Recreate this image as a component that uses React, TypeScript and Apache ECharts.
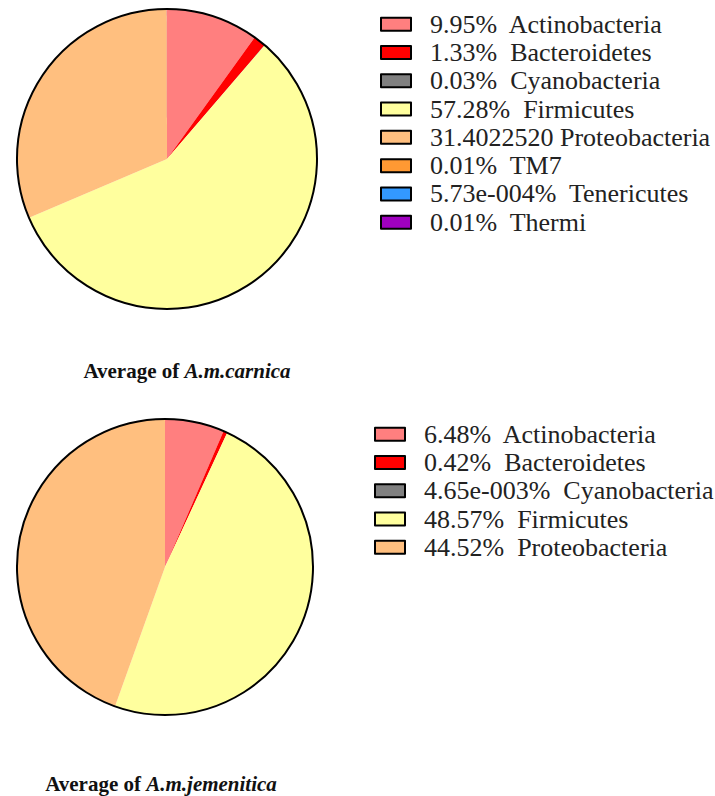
import React, { useEffect, useRef } from "react";
import * as echarts from "echarts";

const phyla = ["Actinobacteria", "Bacteroidetes", "Cyanobacteria", "Firmicutes", "Proteobacteria", "TM7", "Tenericutes", "Thermi"];
const colors = ["#FF7F7F", "#FF0000", "#808080", "#FFFF9E", "#FFBF7F", "#FF9933", "#3399FF", "#A000C0"];

const carnicaValues = [9.95, 1.33, 0.03, 57.28, 31.4022520, 0.01, 0.000573, 0.01];
const carnicaLabels = ["9.95%  Actinobacteria", "1.33%  Bacteroidetes", "0.03%  Cyanobacteria", "57.28%  Firmicutes", "31.4022520 Proteobacteria", "0.01%  TM7", "5.73e-004%  Tenericutes", "0.01%  Thermi"];

const jemeniticaPhyla = ["Actinobacteria", "Bacteroidetes", "Cyanobacteria", "Firmicutes", "Proteobacteria"];
const jemeniticaValues = [6.48, 0.42, 0.00465, 48.57, 44.52];
const jemeniticaLabels = ["6.48%  Actinobacteria", "0.42%  Bacteroidetes", "4.65e-003%  Cyanobacteria", "48.57%  Firmicutes", "44.52%  Proteobacteria"];

const serif = "'Liberation Serif', 'Times New Roman', serif";

export default function App() {
  const ref = useRef<HTMLDivElement>(null);
  useEffect(() => {
    document.body.style.margin = "0";
    const chart = echarts.init(ref.current!, null, { renderer: "svg" });
    const pieData = (names: string[], vals: number[]) =>
      names.map((n, i) => ({ name: n, value: vals[i], itemStyle: { color: colors[phyla.indexOf(n)] } }));
    const outline = (center: number[], radius: number) => ({
      type: "pie",
      center,
      radius,
      silent: true,
      label: { show: false },
      labelLine: { show: false },
      itemStyle: { color: "rgba(0,0,0,0)", borderColor: "#000", borderWidth: 2 },
      data: [{ name: "__outline", value: 1 }],
      z: 5,
    });
    const legendBase = {
      orient: "vertical",
      icon: "rect",
      padding: 0,
      itemWidth: 30,
      itemHeight: 13,
      itemGap: 0,
      selectedMode: false,
      itemStyle: { borderColor: "#000", borderWidth: 2 },
      textStyle: { fontFamily: serif, fontSize: 26, color: "#222", lineHeight: 28.3, padding: [0, 0, 0, 14] },
    };
    const mapLabel = (names: string[], labels: string[]) => (name: string) => labels[names.indexOf(name)];
    const titleRich = {
      a: { fontFamily: serif, fontWeight: "bold", fontSize: 21, color: "#111" },
      b: { fontFamily: serif, fontWeight: "bold", fontStyle: "italic", fontSize: 21, color: "#111" },
    };
    chart.setOption({
      animation: false,
      title: [
        {
          text: "{a|Average of }{b|A.m.carnica}",
          left: 187,
          top: 360,
          padding: 0,
          textAlign: "center",
          textStyle: { rich: titleRich },
        },
        {
          text: "{a|Average of }{b|A.m.jemenitica}",
          left: 161,
          top: 773,
          padding: 0,
          textAlign: "center",
          textStyle: { rich: titleRich },
        },
      ],
      legend: [
        {
          ...legendBase,
          left: 380,
          top: 10,
          data: phyla,
          formatter: mapLabel(phyla, carnicaLabels),
        },
        {
          ...legendBase,
          left: 374,
          top: 420,
          data: jemeniticaPhyla,
          formatter: mapLabel(jemeniticaPhyla, jemeniticaLabels),
        },
      ],
      series: [
        {
          type: "pie",
          center: [167, 159],
          radius: 150,
          startAngle: 90,
          clockwise: true,
          label: { show: false },
          labelLine: { show: false },
          emphasis: { disabled: true },
          data: pieData(phyla, carnicaValues),
        },
        outline([167, 159], 150),
        {
          type: "pie",
          center: [165, 567],
          radius: 148,
          startAngle: 90,
          clockwise: true,
          label: { show: false },
          labelLine: { show: false },
          emphasis: { disabled: true },
          data: pieData(jemeniticaPhyla, jemeniticaValues),
        },
        outline([165, 567], 148),
      ],
    });
    return () => chart.dispose();
  }, []);
  return <div ref={ref} style={{ position: "absolute", left: 0, top: 0, width: 715, height: 796, background: "#fff" }} />;
}
